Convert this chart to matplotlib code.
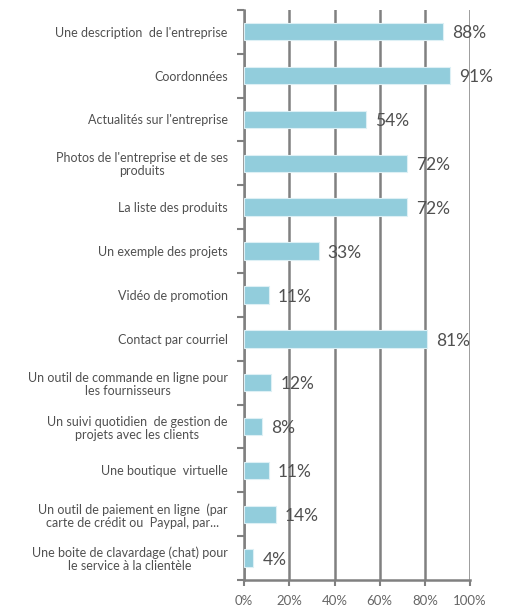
import matplotlib.pyplot as plt
import numpy as np

categories = [
    "Une description  de l'entreprise",
    "Coordonnées",
    "Actualités sur l'entreprise",
    "Photos de l'entreprise et de ses\nproduits",
    "La liste des produits",
    "Un exemple des projets",
    "Vidéo de promotion",
    "Contact par courriel",
    "Un outil de commande en ligne pour\nles fournisseurs",
    "Un suivi quotidien  de gestion de\nprojets avec les clients",
    "Une boutique  virtuelle",
    "Un outil de paiement en ligne  (par\ncarte de crédit ou  Paypal, par...",
    "Une boite de clavardage (chat) pour\nle service à la clientèle",
]
values = [88, 91, 54, 72, 72, 33, 11, 81, 12, 8, 11, 14, 4]
xticks = [0, 20, 40, 60, 80, 100]

plt.rcParams['font.family'] = ['Lato', 'DejaVu Sans']

fig = plt.figure(figsize=(5.12, 6.10), dpi=100)
ax = fig.add_axes([0.477, 0.049, 0.441, 0.935])

y = np.arange(len(categories))
ax.barh(y, values, height=0.4, color='#92CDDC', edgecolor='#DDF0F5',
        linewidth=0.8, zorder=3)

for yi, v in zip(y, values):
    ax.text(v + 4, yi + 0.04, f"{v}%", va='center', ha='left', fontsize=12.5,
            color='#505050', zorder=4)

ax.set_ylim(len(categories) - 0.5, -0.5)
ax.set_xlim(0, 100)
ax.set_xticks(xticks)
ax.set_xticklabels([f"{t}%" for t in xticks], fontsize=9.5, color='#666666')
ax.set_yticks(y)
ax.set_yticklabels(categories, fontsize=9, color='#505050',
                   linespacing=1.1, multialignment='center')
ax.set_yticks(np.arange(len(categories) + 1) - 0.5, minor=True)

ax.grid(axis='x', color='#808080', linewidth=1.8, zorder=0)
ax.tick_params(axis='y', which='major', length=0, pad=12)
ax.tick_params(axis='y', which='minor', length=5, width=1.5, color='#808080')
ax.tick_params(axis='x', length=4, width=1.5, color='#808080', pad=7)

for side in ['top', 'right']:
    ax.spines[side].set_visible(False)
for side in ['left', 'bottom']:
    ax.spines[side].set_color('#808080')
    ax.spines[side].set_linewidth(1.8)

fig.savefig("out.png", dpi=100)
